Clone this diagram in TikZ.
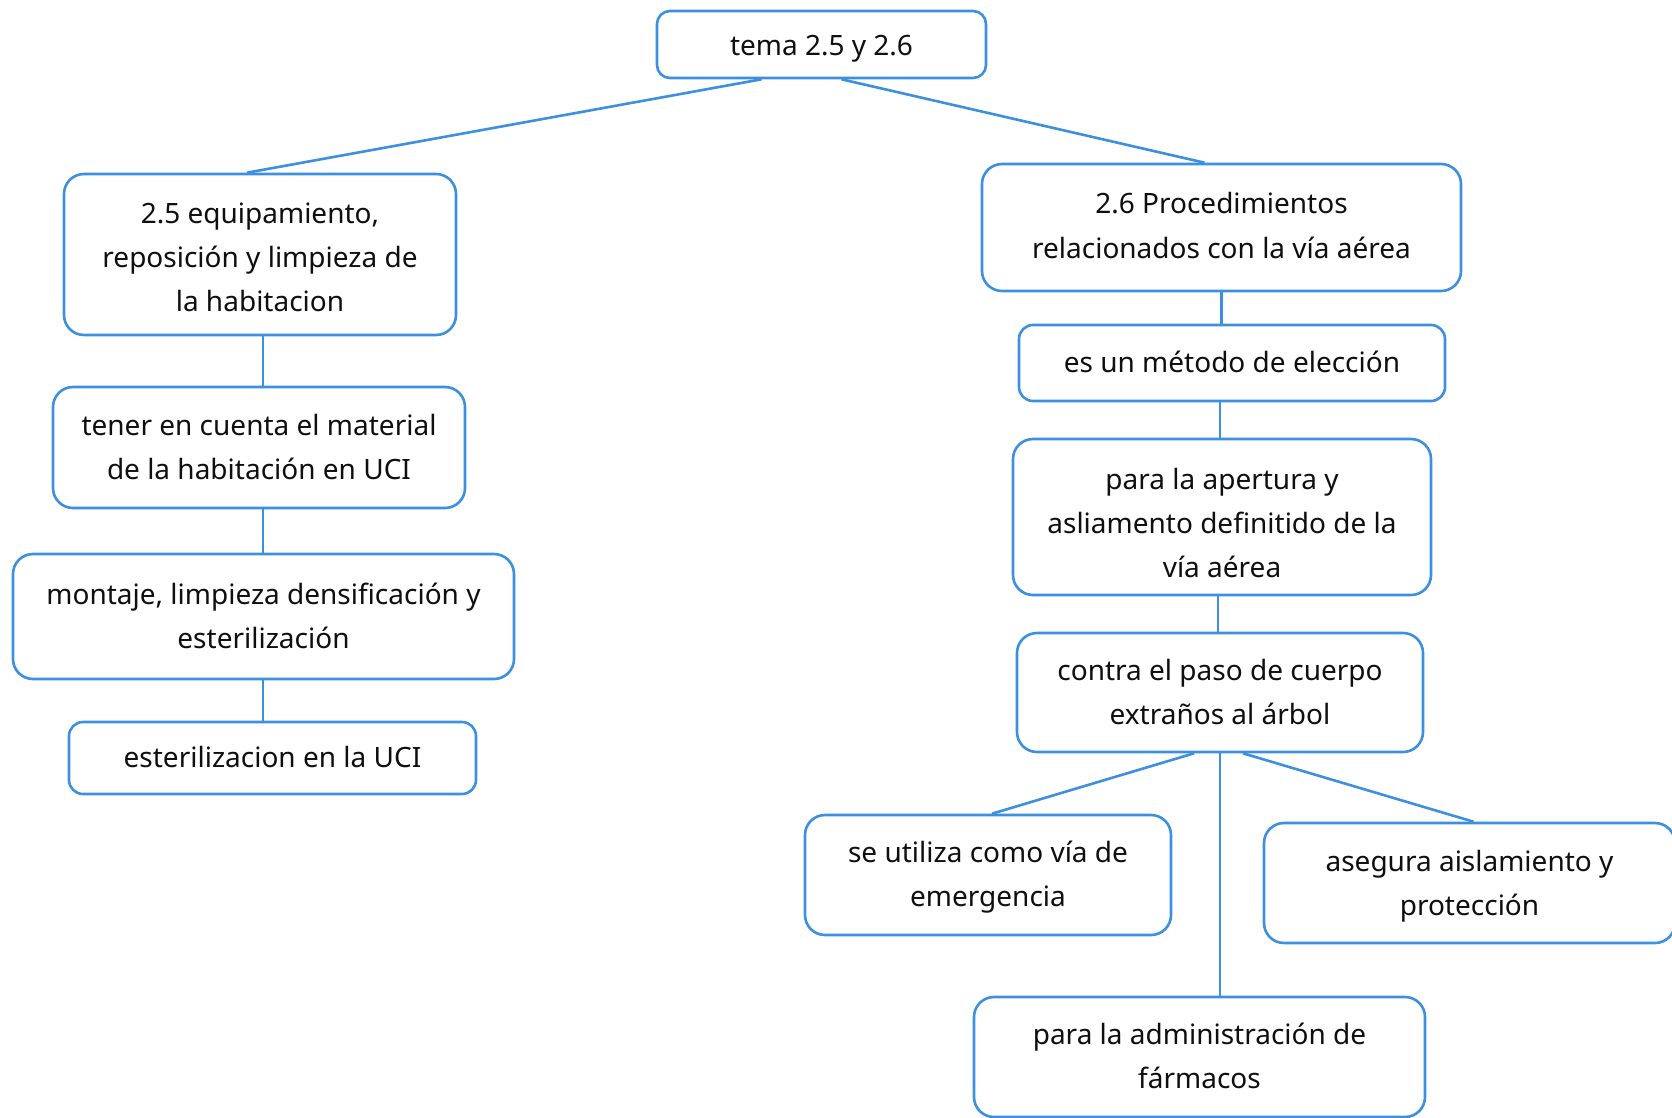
\documentclass[tikz,border=0pt]{standalone}
\usepackage{fontspec}
\setmainfont{Noto Sans}
\definecolor{lineblue}{RGB}{61,144,224}
\definecolor{txt}{RGB}{15,15,15}
\newcommand{\st}{\rule[-7.5pt]{0pt}{34pt}}
\newcommand{\stt}[1]{\rule[-7.5pt]{0pt}{#1}}
\begin{document}
\begin{tikzpicture}[x=1pt,y=-1pt,
  box/.style={draw=lineblue, line width=2.6pt, rounded corners=20pt, align=center,
    inner sep=0pt, text=txt, font=\fontsize{28}{44}\selectfont},
  link/.style={draw=lineblue, line width=2.6pt}]
\useasboundingbox (0,0) rectangle (1672,1118);
\fill[white] (0,0) rectangle (1672,1118);
% left branch
\node[box, rounded corners=13pt, minimum width=329pt, minimum height=67pt] (top) at (821.5,44.5) {\stt{38pt}tema 2.5 y 2.6};
\node[box, minimum width=392pt, minimum height=161pt] (L1) at (260,254.5) {\stt{40pt}2.5 equipamiento,\\reposición y limpieza de\\\st la habitacion};
\node[box, minimum width=412pt, minimum height=121pt] (L2) at (259,447.5) {\st tener en cuenta el material\\\st de la habitación en UCI};
\node[box, minimum width=501pt, minimum height=125pt] (L3) at (263.5,616.5) {\st montaje, limpieza densificación y\\\st esterilización};
\node[box, rounded corners=14pt, minimum width=407pt, minimum height=72pt] (L4) at (272.5,758) {\st esterilizacion en la UCI};
% right branch
\node[box, minimum width=479pt, minimum height=127pt] (R1) at (1221.5,227.5) {\stt{32pt}2.6 Procedimientos\\\st relacionados con la vía aérea};
\node[box, rounded corners=14pt, minimum width=426pt, minimum height=76pt] (R2) at (1232,363) {\st es un método de elección};
\node[box, minimum width=418pt, minimum height=156pt] (R3) at (1222,517) {\stt{47pt}para la apertura y\\asliamento definitido de la\\\st vía aérea};
\node[box, minimum width=406pt, minimum height=119pt] (R4) at (1220,692.5) {\st contra el paso de cuerpo\\\st extraños al árbol};
\node[box, minimum width=366pt, minimum height=120pt] (R5) at (988,875) {\st se utiliza como vía de\\\st emergencia};
\node[box, minimum width=411pt, minimum height=120pt] (R6) at (1469.5,883) {\stt{36pt}asegura aislamiento y\\\st protección};
\node[box, minimum width=451pt, minimum height=120pt] (R7) at (1199.5,1057) {\st para la administración de\\\st fármacos};
% connectors
\draw[link] ([xshift=-60pt]top.south) -- ([xshift=-13pt]L1.north);
\draw[link] ([xshift=20pt]top.south) -- ([xshift=-17pt]R1.north);
\coordinate (lx) at (263,0);
\draw[link] (L1.south -| lx) -- (L2.north -| lx);
\draw[link] (L2.south -| lx) -- (L3.north -| lx);
\draw[link] (L3.south -| lx) -- (L4.north -| lx);
\draw[link] (R1.south) -- (R1.south |- R2.north);
\draw[link] ([xshift=-12pt]R2.south) -- ([xshift=-12pt]R2.south |- R3.north);
\draw[link] ([xshift=-4pt]R3.south) -- ([xshift=-4pt]R3.south |- R4.north);
\draw[link] ([xshift=-26pt]R4.south) -- ([xshift=4pt]R5.north);
\draw[link] ([xshift=23pt]R4.south) -- ([xshift=4pt]R6.north);
\draw[link] (R4.south) -- (R4.south |- R7.north);
\end{tikzpicture}
\end{document}
